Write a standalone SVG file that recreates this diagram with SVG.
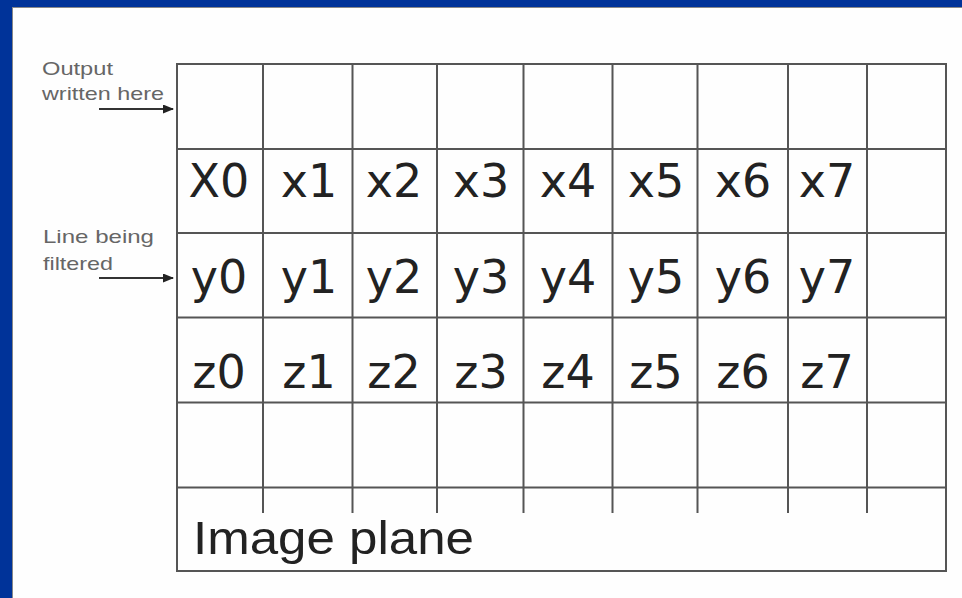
<svg xmlns="http://www.w3.org/2000/svg" width="962" height="598" viewBox="0 0 962 598">
<defs>
<style>
.g{stroke:#555;stroke-width:2;fill:none}
.c{font-family:"DejaVu Sans",sans-serif;font-size:46px;fill:#222;text-anchor:middle}
.l{font-family:"Liberation Sans",Arial,sans-serif;font-size:19px;fill:#666}
.a{stroke:#333;stroke-width:2;fill:none}
</style>
<marker id="ah" markerWidth="11" markerHeight="9" refX="10" refY="4.5" orient="auto" markerUnits="userSpaceOnUse">
<path d="M0,0 L11,4.5 L0,9 Z" fill="#222"/>
</marker>
</defs>
<rect x="0" y="0" width="962" height="598" fill="#003399"/>
<rect x="12" y="7" width="950" height="591" fill="#888"/>
<rect x="13" y="8" width="949" height="590" fill="#fefefe"/>

<g id="grid">
<rect class="g" x="177" y="64" width="769" height="507"/>
<path class="g" d="M177 149H946M177 233H946M177 317.5H946M177 402.5H946M177 487.5H946"/>
<path class="g" d="M263 64V513M352.5 64V513M437 64V513M523.5 64V513M612.5 64V513M697.5 64V513M788 64V513M867 64V513"/>
</g>

<g id="row-x">
<text class="c" x="219" y="196.5">X0</text>
<text class="c" x="309" y="196.5">x1</text>
<text class="c" x="394" y="196.5">x2</text>
<text class="c" x="481" y="196.5">x3</text>
<text class="c" x="568" y="196.5">x4</text>
<text class="c" x="656" y="196.5">x5</text>
<text class="c" x="743" y="196.5">x6</text>
<text class="c" x="827" y="196.5">x7</text>
</g>
<g id="row-y">
<text class="c" x="219" y="293">y0</text>
<text class="c" x="309" y="293">y1</text>
<text class="c" x="394" y="293">y2</text>
<text class="c" x="481" y="293">y3</text>
<text class="c" x="568" y="293">y4</text>
<text class="c" x="656" y="293">y5</text>
<text class="c" x="743" y="293">y6</text>
<text class="c" x="827" y="293">y7</text>
</g>
<g id="row-z">
<text class="c" x="219" y="388">z0</text>
<text class="c" x="309" y="388">z1</text>
<text class="c" x="394" y="388">z2</text>
<text class="c" x="481" y="388">z3</text>
<text class="c" x="568" y="388">z4</text>
<text class="c" x="656" y="388">z5</text>
<text class="c" x="743" y="388">z6</text>
<text class="c" x="827" y="388">z7</text>
</g>

<g id="image-plane">
<text x="193" y="554" font-family="'Liberation Sans',Arial,sans-serif" font-size="46" fill="#222" textLength="281" lengthAdjust="spacingAndGlyphs">Image plane</text>
</g>

<g id="label-output">
<text class="l" x="42" y="75" textLength="71" lengthAdjust="spacingAndGlyphs">Output</text>
<text class="l" x="42" y="100" textLength="122" lengthAdjust="spacingAndGlyphs">written here</text>
</g>
<g id="label-line">
<text class="l" x="43" y="243" textLength="111" lengthAdjust="spacingAndGlyphs">Line being</text>
<text class="l" x="43" y="270" textLength="70" lengthAdjust="spacingAndGlyphs">filtered</text>
</g>

<g id="connectors">
<line class="a" x1="99" y1="109" x2="173" y2="109" marker-end="url(#ah)"/>
<line class="a" x1="99" y1="278" x2="173" y2="278" marker-end="url(#ah)"/>
</g>
</svg>
